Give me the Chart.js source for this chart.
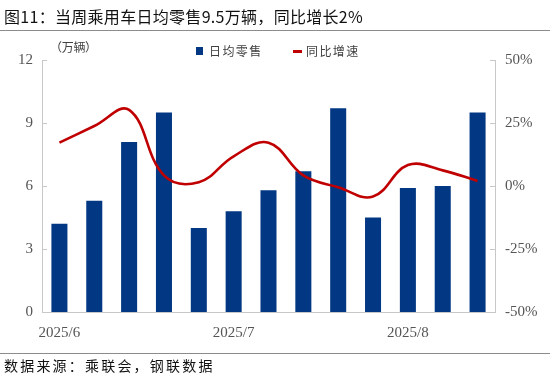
<!DOCTYPE html>
<html><head><meta charset="utf-8">
<script src="https://cdn.jsdelivr.net/npm/chart.js@4/dist/chart.umd.min.js"></script>
<style>
body{margin:0;width:550px;height:381px;background:#fff;position:relative;overflow:hidden;font-family:"Noto Sans CJK SC",sans-serif;color:#000;}
canvas{position:absolute;left:0;top:0;}
.t{position:absolute;white-space:nowrap;z-index:2;}
#title{left:4px;top:5px;font-size:16px;line-height:22px;letter-spacing:0.3px;color:#111;}
#foot{left:4px;top:355px;font-size:14px;line-height:20px;letter-spacing:2.2px;color:#111;}
.rule{position:absolute;left:0;width:550px;height:0;border-top:1.5px solid #8c8c8c;z-index:2;}
#unit{left:50px;top:38px;font-size:12px;line-height:18px;letter-spacing:-0.3px;color:#404040;}
.lg{top:42px;font-size:12px;line-height:18px;letter-spacing:1.4px;color:#404040;}
.sw{position:absolute;z-index:2;}
</style></head><body>
<div id="title" class="t">图11：当周乘用车日均零售9.5万辆，同比增长2%</div>
<div class="rule" style="top:30px"></div>
<div id="unit" class="t">（万辆）</div>
<div class="sw" style="left:196px;top:47px;width:7px;height:8px;background:#023883"></div>
<div id="lg1" class="t lg" style="left:209px"></div>
<div class="sw" style="left:293px;top:50px;width:9px;height:2.5px;background:#C00000"></div>
<div id="lg2" class="t lg" style="left:306px"></div>
<div class="rule" style="top:353px"></div>
<div id="foot" class="t">数据来源：乘联会，钢联数据</div>
<canvas id="c" width="550" height="381"></canvas>
<script>
const seriesNames = ['日均零售', '同比增速'];
const categories = ['1','2','3','4','5','6','7','8','9','10','11','12','13'];
const xTickLabels = ['2025/6','','','','','2025/7','','','','','2025/8','',''];
const retail = [4.2, 5.3, 8.1, 9.5, 4.0, 4.8, 5.8, 6.7, 9.7, 4.5, 5.9, 6.0, 9.5];
const yoy = [17.2, 23.8, 30.2, 4.2, 1.5, 11.8, 17.2, 4.2, -0.5, -4.2, 8.3, 6.2, 2.0];
const leftTicks = [0, 3, 6, 9, 12];
const rightTicks = [-50, -25, 0, 25, 50];

document.getElementById('lg1').textContent = seriesNames[0];
document.getElementById('lg2').textContent = seriesNames[1];

const axisColor = '#c8c8c8';
const tickFont = {family: '"Liberation Serif", "Times New Roman", serif', size: 15};
const tickColor = '#555';

const innerTicks = {
  id: 'innerTicks',
  afterDraw(chart) {
    const ctx = chart.ctx, a = chart.chartArea;
    ctx.save();
    ctx.strokeStyle = axisColor; ctx.lineWidth = 1;
    chart.scales.y.ticks.forEach(t => {
      const p = Math.round(chart.scales.y.getPixelForValue(t.value)) + 0.5;
      ctx.beginPath(); ctx.moveTo(a.left, p); ctx.lineTo(a.left + 5, p); ctx.stroke();
    });
    chart.scales.y1.ticks.forEach(t => {
      const p = Math.round(chart.scales.y1.getPixelForValue(t.value)) + 0.5;
      ctx.beginPath(); ctx.moveTo(a.right - 5, p); ctx.lineTo(a.right, p); ctx.stroke();
    });
    ctx.restore();
  }
};

new Chart(document.getElementById('c'), {
  data: {
    labels: categories,
    datasets: [
      {type: 'line', label: seriesNames[1], data: yoy, yAxisID: 'y1', borderColor: '#C00000', borderWidth: 2.6,
       pointRadius: 0, tension: 0.4, order: 0, fill: false},
      {type: 'bar', label: seriesNames[0], data: retail, yAxisID: 'y', backgroundColor: '#023883',
       categoryPercentage: 1, barPercentage: 0.46, order: 1}
    ]
  },
  options: {
    responsive: false, devicePixelRatio: 1, animation: false,
    layout: {padding: {top: 60, left: 0, right: 0, bottom: 0}},
    plugins: {legend: {display: false}, tooltip: {enabled: false}},
    scales: {
      x: {
        grid: {display: false, drawTicks: false},
        border: {display: true, color: axisColor},
        ticks: {autoSkip: false, maxRotation: 0, padding: 12, font: tickFont, color: tickColor,
                callback: (v, i) => xTickLabels[i]},
        afterFit: s => { s.height = 69; }
      },
      y: {
        position: 'left', min: 0, max: 12,
        afterBuildTicks: s => { s.ticks = leftTicks.map(v => ({value: v})); },
        grid: {display: false, drawTicks: false},
        border: {display: true, color: axisColor},
        ticks: {padding: 9, font: tickFont, color: tickColor},
        afterFit: s => { s.width = 42; }
      },
      y1: {
        position: 'right', min: -50, max: 50,
        afterBuildTicks: s => { s.ticks = rightTicks.map(v => ({value: v})); },
        grid: {display: false, drawTicks: false},
        border: {display: true, color: axisColor},
        ticks: {padding: 10, font: tickFont, color: tickColor, callback: v => v + '%'},
        afterFit: s => { s.width = 55; }
      }
    }
  },
  plugins: [innerTicks]
});
</script>
</body></html>
